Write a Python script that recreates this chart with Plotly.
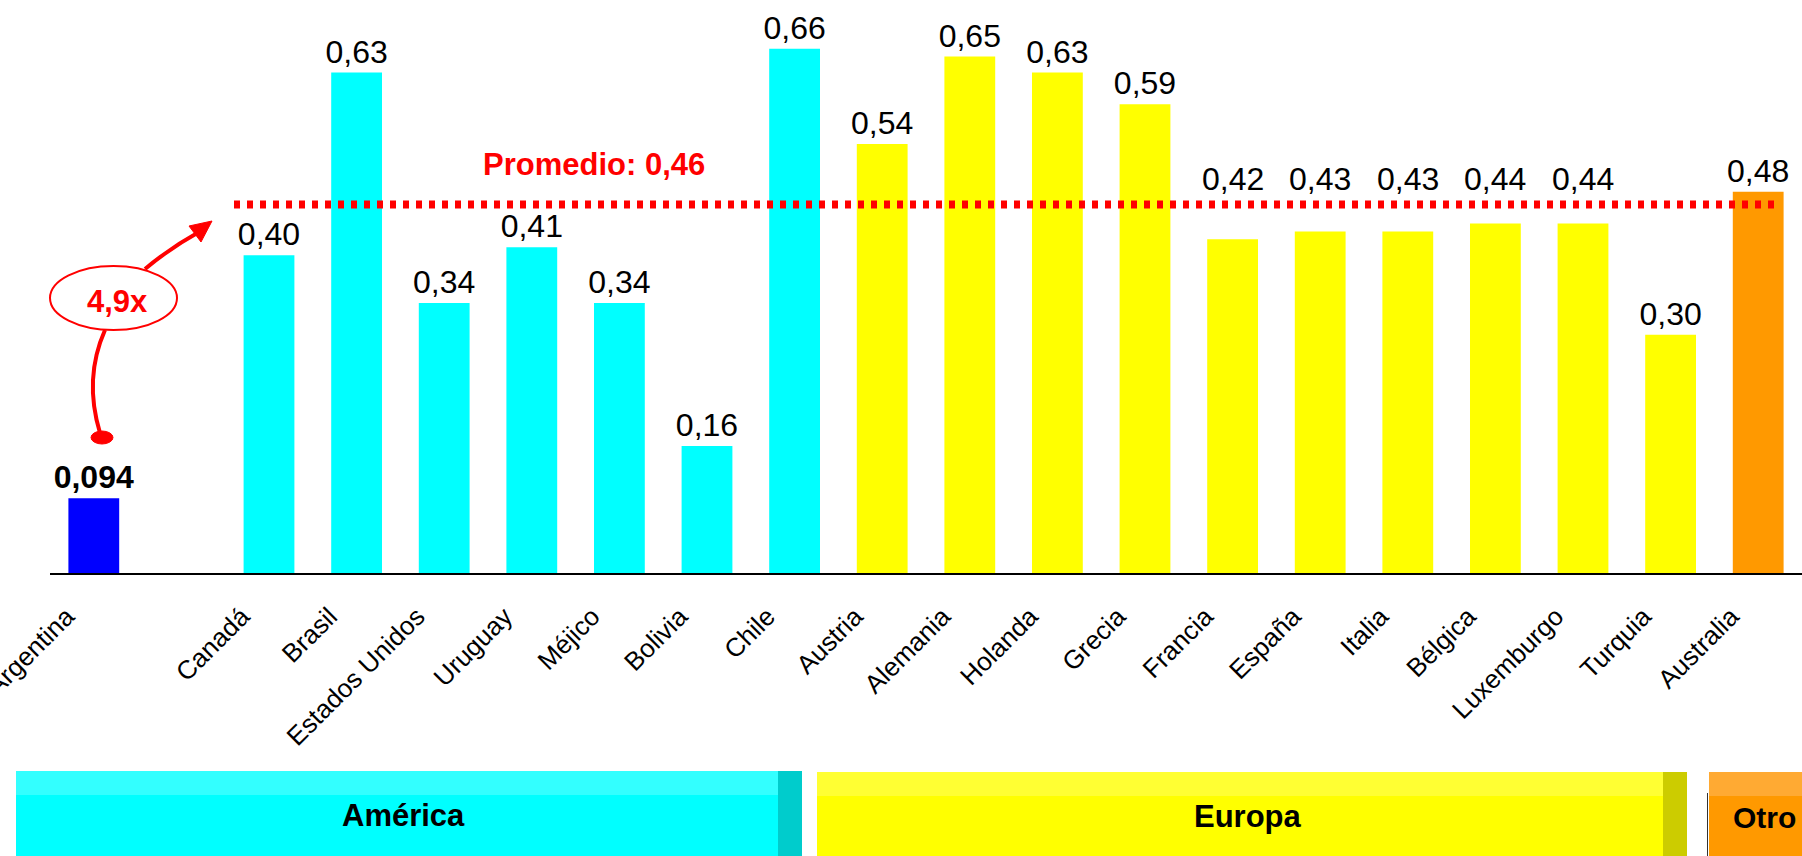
import plotly.graph_objects as go

# ---------------- data ----------------
categories = ["Argentina", "Canadá", "Brasil", "Estados Unidos", "Uruguay", "Méjico", "Bolivia", "Chile",
              "Austria", "Alemania", "Holanda", "Grecia", "Francia", "España", "Italia", "Bélgica",
              "Luxemburgo", "Turquia", "Australia"]
values = [0.094, 0.40, 0.63, 0.34, 0.41, 0.34, 0.16, 0.66,
          0.54, 0.65, 0.63, 0.59, 0.42, 0.43, 0.43, 0.44, 0.44, 0.30, 0.48]
regions = ["Argentina"] + ["América"] * 7 + ["Europa"] * 10 + ["Otros"]
# slot positions: one empty slot between Argentina and the rest
positions = [0] + list(range(2, 2 + len(categories) - 1))

promedio_valor = 0.464
promedio_texto = "Promedio: 0,46"
ratio_texto = "4,9x"
band_names = ["América", "Europa", "Otro"]
# labels that sit above the average line instead of on top of their bar
lifted_labels = ["Francia", "España", "Italia", "Bélgica", "Luxemburgo"]

# ---------------- styles ----------------
region_colors = {"Argentina": "#0000FF", "América": "#00FFFF", "Europa": "#FFFF00", "Otros": "#FF9900"}
FONT = "Liberation Sans, Arial, sans-serif"
VAL_SIZE = 32
W, H = 1802, 856
ML, MR, MT, MB = 50, 0, 1, 283
PW, PH = W - ML - MR, H - MT - MB


def xp(px):
    return (px - ML) / PW


def yp(py):
    return (H - MB - py) / PH


fig = go.Figure()
for reg in ["Argentina", "América", "Europa", "Otros"]:
    sel = [i for i, r in enumerate(regions) if r == reg]
    xs = [positions[i] for i in sel]
    ys = [values[i] for i in sel]
    bold = reg == "Argentina"
    fmt = "<b>%{y:.3f}</b>" if bold else "%{y:.2f}"
    tmpl = ["" if categories[i] in lifted_labels else fmt for i in sel]
    fig.add_trace(go.Bar(
        x=xs, y=ys, width=0.58,
        marker=dict(color=region_colors[reg], line=dict(width=0)),
        texttemplate=tmpl,
        textposition="outside", constraintext="none", cliponaxis=False,
        textfont=dict(family=FONT, size=VAL_SIZE, color="black"),
        showlegend=False, hoverinfo="skip",
    ))

annotations = []
for c, p, v in zip(categories, positions, values):
    if c in lifted_labels:
        annotations.append(dict(text=f"{v:.2f}".replace(".", ","), x=p, y=promedio_valor, xref="x", yref="y",
                                showarrow=False, xanchor="center", yanchor="bottom", yshift=5,
                                font=dict(family=FONT, size=VAL_SIZE, color="black")))

shapes = []
# average dotted line
shapes.append(dict(type="line", xref="paper", yref="y", x0=xp(234), x1=xp(1778),
                   y0=promedio_valor, y1=promedio_valor,
                   line=dict(color="#FF0000", width=8, dash="6px,7px")))
# ellipse with ratio
shapes.append(dict(type="circle", xref="paper", yref="paper", x0=xp(50), x1=xp(177), y0=yp(330), y1=yp(266),
                   line=dict(color="#FF0000", width=2), fillcolor="rgba(0,0,0,0)"))
# upper curved arrow
shapes.append(dict(type="path", xref="paper", yref="paper",
                   path=f"M {xp(145)},{yp(269)} Q {xp(170)},{yp(248)} {xp(199)},{yp(232)}",
                   line=dict(color="#FF0000", width=4)))
shapes.append(dict(type="path", xref="paper", yref="paper",
                   path=f"M {xp(212)},{yp(221)} L {xp(189)},{yp(226)} L {xp(201)},{yp(242)} Z",
                   fillcolor="#FF0000", line=dict(color="#FF0000", width=1)))
# lower curve with dot
shapes.append(dict(type="path", xref="paper", yref="paper",
                   path=f"M {xp(105)},{yp(330)} Q {xp(83.5)},{yp(378.5)} {xp(100)},{yp(433)}",
                   line=dict(color="#FF0000", width=4)))
shapes.append(dict(type="circle", xref="paper", yref="paper", x0=xp(91), x1=xp(113), y0=yp(444), y1=yp(431),
                   fillcolor="#FF0000", line=dict(color="#FF0000", width=1)))

# region bands at the bottom
bands = [
    (16, 802, 771, "#33FFFF", "#00FFFF", "#00CCCC", 24),
    (817, 1687, 772, "#FFFF33", "#FFFF00", "#CCCC00", 24),
    (1709, 1830, 772, "#FFAA33", "#FF9900", None, 0),
]
for x0, x1, top, light, main, dark, dw in bands:
    shapes.append(dict(type="rect", xref="paper", yref="paper", x0=xp(x0), x1=xp(x1), y0=yp(900), y1=yp(top + 24),
                       fillcolor=main, line=dict(width=0)))
    shapes.append(dict(type="rect", xref="paper", yref="paper", x0=xp(x0), x1=xp(x1), y0=yp(top + 24), y1=yp(top),
                       fillcolor=light, line=dict(width=0)))
    if dark:
        shapes.append(dict(type="rect", xref="paper", yref="paper", x0=xp(x1 - dw), x1=xp(x1), y0=yp(900), y1=yp(top),
                           fillcolor=dark, line=dict(width=0)))
shapes.append(dict(type="line", xref="paper", yref="paper", x0=xp(1707.5), x1=xp(1707.5), y0=yp(793), y1=yp(900),
                   line=dict(color="#333333", width=1)))

annotations += [
    dict(text=f"<b>{promedio_texto}</b>", xref="paper", yref="paper", x=xp(594), y=yp(164),
         showarrow=False, font=dict(family=FONT, size=31, color="#FF0000"), xanchor="center", yanchor="middle"),
    dict(text=f"<b>{ratio_texto}</b>", xref="paper", yref="paper", x=xp(117), y=yp(301),
         showarrow=False, font=dict(family=FONT, size=31, color="#FF0000"), xanchor="center", yanchor="middle"),
    dict(text=f"<b>{band_names[0]}</b>", xref="paper", yref="paper", x=xp(403.5), y=yp(815),
         showarrow=False, font=dict(family=FONT, size=31, color="black"), xanchor="center", yanchor="middle"),
    dict(text=f"<b>{band_names[1]}</b>", xref="paper", yref="paper", x=xp(1247.5), y=yp(816),
         showarrow=False, font=dict(family=FONT, size=31, color="black"), xanchor="center", yanchor="middle"),
    dict(text=f"<b>{band_names[2]}</b>", xref="paper", yref="paper", x=xp(1731), y=yp(817),
         showarrow=False, font=dict(family=FONT, size=30, color="black"), xanchor="left", yanchor="middle"),
]

fig.update_layout(
    width=W, height=H,
    margin=dict(l=ML, r=MR, t=MT, b=MB, pad=0, autoexpand=False),
    paper_bgcolor="white", plot_bgcolor="white",
    separators=",.",
    font=dict(family=FONT, color="black"),
    barmode="overlay",
    shapes=shapes, annotations=annotations,
    xaxis=dict(range=[-0.5, 19.5], tickmode="array", tickvals=positions, ticktext=categories,
               tickangle=-45, tickfont=dict(family=FONT, size=26, color="black"),
               ticklabelshift=-27, ticklabelstandoff=16, ticklabeloverflow="allow", automargin=False,
               showline=True, linecolor="black", linewidth=2, showgrid=False, zeroline=False,
               ticks="", fixedrange=True),
    yaxis=dict(range=[0, 0.72], visible=False, showgrid=False, zeroline=False, fixedrange=True,
               automargin=False),
)

fig.write_html("out.html", config={"displayModeBar": False},
               post_script="document.body.style.margin='0';document.body.style.overflow='hidden';")
